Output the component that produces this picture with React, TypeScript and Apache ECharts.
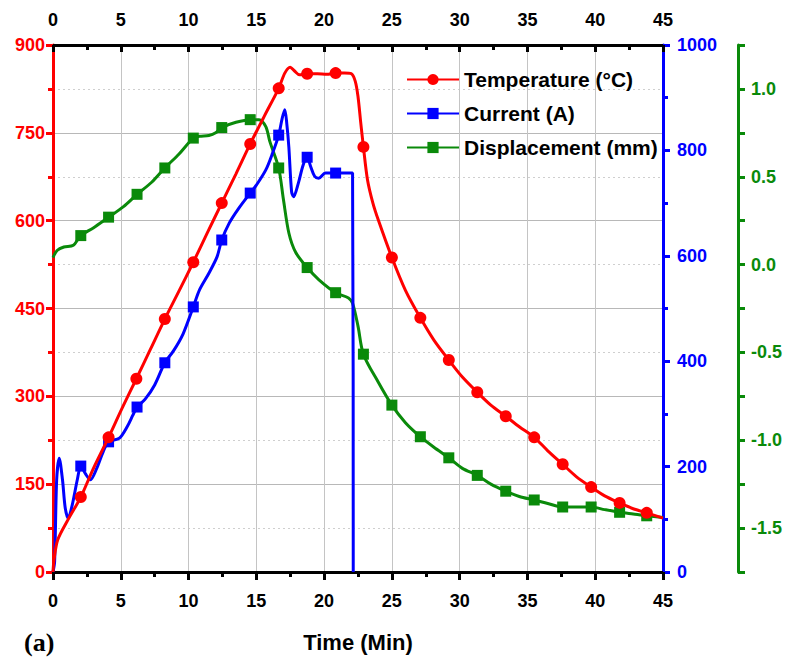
import React, { useEffect, useRef } from "react";
import * as echarts from "echarts";

const FONT = "'Liberation Sans Narrow', 'Arial Narrow', 'Liberation Sans', Arial, sans-serif";

const seriesNames = ["Temperature (°C)", "Current (A)", "Displacement (mm)"];
const seriesColors = ["#ff0000", "#0000ff", "#0a8a0a"];

// time (min), temperature (°C)
const tempCurve: [number, number][] = [
  [0, 0], [0.08, 22], [0.35, 55], [1.1, 89], [2.05, 128], [3.0, 178], [4.1, 230], [5.1, 280],
  [6.15, 330], [7.2, 381], [8.25, 432], [9.3, 480], [10.35, 529], [11.4, 580], [12.45, 630],
  [13.5, 680], [14.55, 731], [15.6, 779], [16.65, 826], [17.1, 852], [17.5, 862], [17.8, 856],
  [18.2, 849], [18.75, 851], [19.5, 851], [20.2, 850], [20.85, 852], [21.5, 852], [22.0, 851],
  [22.3, 838], [22.5, 812], [22.7, 768], [22.9, 726], [23.2, 670], [23.6, 630], [24.0, 601],
  [25.0, 537], [26.0, 481], [27.1, 434], [28.1, 396], [29.2, 362], [30.2, 333], [31.3, 307],
  [32.3, 285], [33.4, 266], [34.4, 248], [35.5, 230], [36.5, 207], [37.6, 184], [38.6, 163],
  [39.7, 145], [40.7, 130], [41.8, 118], [42.8, 108], [43.8, 101], [45, 92],
];
const tempMarkers = [2.05, 4.1, 6.15, 8.25, 10.35, 12.45, 14.55, 16.65, 18.75, 20.85, 22.9, 25.0,
  27.1, 29.2, 31.3, 33.4, 35.5, 37.6, 39.7, 41.8, 43.8];

// time (min), current (A)
const currentCurve: [number, number][] = [
  [0, 0], [0.12, 20], [0.27, 175], [0.46, 216], [0.7, 175], [0.9, 122], [1.12, 102], [1.4, 125],
  [1.8, 176], [2.05, 201], [2.4, 186], [2.76, 175], [3.2, 195], [3.7, 228], [4.1, 247], [4.9, 254],
  [5.5, 277], [5.9, 298], [6.2, 313], [6.8, 328], [7.5, 355], [8.25, 397], [8.9, 420], [9.6, 452],
  [10.35, 503], [10.8, 535], [11.5, 567], [12.1, 598], [12.45, 630], [13.0, 662], [13.7, 690],
  [14.55, 719], [15.0, 734], [15.7, 763], [16.2, 795], [16.65, 829], [16.9, 860], [17.1, 877],
  [17.25, 850], [17.4, 806], [17.6, 722], [17.75, 712], [18.1, 738], [18.45, 772], [18.75, 787],
  [19.0, 770], [19.3, 751], [19.6, 747], [20.1, 757], [20.85, 757], [21.5, 757], [21.9, 757],
  [22.1, 757], [22.15, 0],
];
const currentMarkers = [2.05, 4.1, 6.2, 8.25, 10.35, 12.45, 14.55, 16.65, 18.75, 20.85];

// time (min), displacement (mm)
const dispCurve: [number, number][] = [
  [0, 0.04], [0.3, 0.08], [0.8, 0.1], [1.5, 0.11], [2.05, 0.165], [3.0, 0.21], [4.1, 0.27],
  [5.2, 0.33], [6.2, 0.4], [7.3, 0.47], [8.25, 0.55], [9.3, 0.63], [10.35, 0.72], [10.8, 0.73],
  [11.5, 0.735], [12.0, 0.75], [12.45, 0.78], [13.5, 0.81], [14.55, 0.825], [15.2, 0.825],
  [15.7, 0.785], [16.0, 0.7], [16.65, 0.55], [17.0, 0.37], [17.4, 0.18], [17.9, 0.07],
  [18.75, -0.017], [19.6, -0.085], [20.85, -0.16], [21.8, -0.19], [22.1, -0.22], [22.5, -0.35],
  [22.9, -0.51], [24.0, -0.67], [25.0, -0.8], [26.0, -0.9], [27.1, -0.98], [28.1, -1.04],
  [29.2, -1.1], [30.2, -1.16], [31.3, -1.2], [32.3, -1.25], [33.4, -1.29], [34.4, -1.32],
  [35.5, -1.34], [36.5, -1.36], [37.6, -1.38], [38.6, -1.38], [39.7, -1.38], [40.7, -1.395],
  [41.8, -1.41], [42.8, -1.42], [43.8, -1.43], [45, -1.44],
];
const dispMarkers = [2.05, 4.1, 6.2, 8.25, 10.35, 12.45, 14.55, 16.65, 18.75, 20.85, 22.9, 25.0,
  27.1, 29.2, 31.3, 33.4, 35.5, 37.6, 39.7, 41.8, 43.8];

const timeRange = { min: 0, max: 45, interval: 5 };
const tempRange = { min: 0, max: 900, interval: 150 };
const currentRange = { min: 0, max: 1000, interval: 200 };
const dispRange = { min: -1.75, max: 1.25, interval: 0.25 };

function buildData(curve: [number, number][], markers: number[]) {
  return curve.map(([t, v]) => {
    const isMarker = markers.some((m) => Math.abs(m - t) < 1e-6);
    return isMarker ? { value: [t, v] } : { value: [t, v], symbol: "none" };
  });
}

export default function App() {
  const ref = useRef<HTMLDivElement>(null);
  useEffect(() => {
    if (!ref.current) return;
    const chart = echarts.init(ref.current, undefined, { renderer: "svg" });
    const labelStyle = (color: string) => ({
      color,
      fontFamily: FONT,
      fontWeight: "bold" as const,
      fontSize: 18,
    });
    const yAxisCommon = (color: string) => ({
      type: "value" as const,
      axisLine: { show: true, onZero: false, lineStyle: { color, width: 3 } },
      axisTick: { show: true, inside: false, length: 7, lineStyle: { color, width: 3 } },
      minorTick: { show: true, splitNumber: 2, length: 5, lineStyle: { color, width: 3 } },
    });
    const xAxisCommon = {
      type: "value" as const,
      min: timeRange.min,
      max: timeRange.max,
      interval: timeRange.interval,
      axisLine: { show: true, onZero: false, lineStyle: { color: "#000", width: 3 } },
    };
    chart.setOption({
      animation: false,
      backgroundColor: "#fff",
      grid: { left: 53, right: 118, top: 45, bottom: 93, containLabel: false },
      legend: {
        orient: "vertical",
        left: 401,
        top: 64,
        itemWidth: 52,
        itemHeight: 14,
        itemGap: 13,
        data: seriesNames,
        textStyle: { color: "#000", fontFamily: FONT, fontWeight: "bold", fontSize: 21, padding: [0, 0, 0, 0] },
      },
      xAxis: [
        {
          ...xAxisCommon,
          position: "bottom",
          axisTick: { show: true, inside: false, length: 8, lineStyle: { color: "#000", width: 3 } },
          minorTick: { show: true, splitNumber: 2, length: 5, lineStyle: { color: "#000", width: 3 } },
          splitLine: { show: true, lineStyle: { color: "#c4c4c4", width: 1 } },
          axisLabel: { ...labelStyle("#000"), margin: 20 },
          name: "Time (Min)",
          nameLocation: "middle",
          nameGap: 59,
          nameTextStyle: { color: "#000", fontFamily: FONT, fontWeight: "bold", fontSize: 22 },
        },
        {
          ...xAxisCommon,
          position: "top",
          axisTick: { show: true, inside: true, length: 7, lineStyle: { color: "#000", width: 3 } },
          minorTick: { show: true, splitNumber: 2, length: 5, lineStyle: { color: "#000", width: 3 } },
          splitLine: { show: false },
          axisLabel: { ...labelStyle("#000"), margin: 16 },
        },
      ],
      yAxis: [
        {
          ...yAxisCommon("#ff0000"),
          position: "left",
          min: tempRange.min,
          max: tempRange.max,
          interval: tempRange.interval,
          splitLine: { show: true, lineStyle: { color: "#b8b8b8", width: 1 } },
          minorSplitLine: { show: true, lineStyle: { color: "#cfcfcf", width: 1, type: [2, 3] } },
          axisLabel: { ...labelStyle("#ff0000"), margin: 8 },
        },
        {
          ...yAxisCommon("#0000ff"),
          position: "right",
          min: currentRange.min,
          max: currentRange.max,
          interval: currentRange.interval,
          splitLine: { show: false },
          axisLabel: { ...labelStyle("#0000ff"), margin: 14, formatter: (v: number) => String(v) },
        },
        {
          ...yAxisCommon("#0a8a0a"),
          position: "right",
          offset: 75,
          min: dispRange.min,
          max: dispRange.max,
          interval: dispRange.interval,
          minorTick: { show: false },
          splitLine: { show: false },
          axisLabel: {
            ...labelStyle("#0a8a0a"),
            margin: 13,
            formatter: (v: number) =>
              Math.abs(v * 2 - Math.round(v * 2)) < 1e-6 ? v.toFixed(1) : "",
          },
        },
      ],
      series: [
        {
          name: seriesNames[0],
          type: "line",
          xAxisIndex: 0,
          yAxisIndex: 0,
          data: buildData(tempCurve, tempMarkers),
          symbol: "circle",
          symbolSize: 12,
          showAllSymbol: true,
          smooth: 0.3,
          lineStyle: { color: seriesColors[0], width: 3 },
          itemStyle: { color: seriesColors[0] },
          z: 4,
        },
        {
          name: seriesNames[1],
          type: "line",
          xAxisIndex: 0,
          yAxisIndex: 1,
          data: buildData(currentCurve, currentMarkers),
          symbol: "rect",
          symbolSize: 11,
          showAllSymbol: true,
          smooth: 0.3,
          lineStyle: { color: seriesColors[1], width: 3 },
          itemStyle: { color: seriesColors[1] },
          z: 3,
        },
        {
          name: seriesNames[2],
          type: "line",
          xAxisIndex: 0,
          yAxisIndex: 2,
          data: buildData(dispCurve, dispMarkers),
          symbol: "rect",
          symbolSize: 11,
          showAllSymbol: true,
          smooth: 0.3,
          lineStyle: { color: seriesColors[2], width: 3 },
          itemStyle: { color: seriesColors[2] },
          z: 2,
        },
      ],
      graphic: [
        {
          type: "text",
          left: 24,
          top: 629,
          style: {
            text: "(a)",
            fill: "#000",
            font: "bold 26px 'Liberation Serif', 'Times New Roman', serif",
          },
        },
      ],
    });
    return () => chart.dispose();
  }, []);
  return <div ref={ref} style={{ width: 785, height: 665, position: "absolute", left: 0, top: 0 }} />;
}
